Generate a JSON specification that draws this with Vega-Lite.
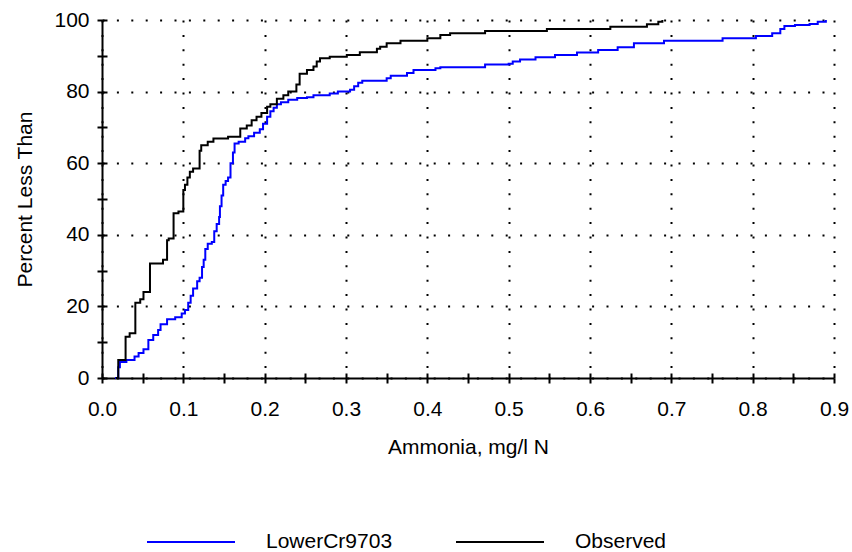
{
  "$schema": "https://vega.github.io/schema/vega-lite/v6.json",
  "autosize": {"type": "none"},
  "width": 732,
  "height": 358,
  "padding": {"left": 102, "top": 20, "right": 18, "bottom": 174},
  "background": "white",
  "config": {
    "view": {"stroke": null},
    "font": "Liberation Sans",
    "axis": {"labelFont": "Liberation Sans", "titleFont": "Liberation Sans", "labelColor": "black", "titleColor": "black", "titleFontWeight": "normal", "labelFontSize": 21, "titleFontSize": 21}
  },
  "data": {
    "values": [
      {"series": "LowerCr9703", "x": 0.016, "p": 0},
      {"series": "LowerCr9703", "x": 0.020, "p": 3},
      {"series": "LowerCr9703", "x": 0.022, "p": 4.5},
      {"series": "LowerCr9703", "x": 0.030, "p": 5},
      {"series": "LowerCr9703", "x": 0.040, "p": 6},
      {"series": "LowerCr9703", "x": 0.045, "p": 7},
      {"series": "LowerCr9703", "x": 0.051, "p": 8},
      {"series": "LowerCr9703", "x": 0.057, "p": 10.6},
      {"series": "LowerCr9703", "x": 0.063, "p": 12},
      {"series": "LowerCr9703", "x": 0.069, "p": 13.4},
      {"series": "LowerCr9703", "x": 0.072, "p": 15},
      {"series": "LowerCr9703", "x": 0.080, "p": 16.4},
      {"series": "LowerCr9703", "x": 0.090, "p": 17},
      {"series": "LowerCr9703", "x": 0.098, "p": 18},
      {"series": "LowerCr9703", "x": 0.102, "p": 19},
      {"series": "LowerCr9703", "x": 0.106, "p": 21},
      {"series": "LowerCr9703", "x": 0.109, "p": 23},
      {"series": "LowerCr9703", "x": 0.112, "p": 25},
      {"series": "LowerCr9703", "x": 0.117, "p": 27},
      {"series": "LowerCr9703", "x": 0.120, "p": 28},
      {"series": "LowerCr9703", "x": 0.123, "p": 31},
      {"series": "LowerCr9703", "x": 0.125, "p": 33},
      {"series": "LowerCr9703", "x": 0.127, "p": 36},
      {"series": "LowerCr9703", "x": 0.130, "p": 37.5},
      {"series": "LowerCr9703", "x": 0.135, "p": 38},
      {"series": "LowerCr9703", "x": 0.138, "p": 41},
      {"series": "LowerCr9703", "x": 0.141, "p": 43},
      {"series": "LowerCr9703", "x": 0.144, "p": 45},
      {"series": "LowerCr9703", "x": 0.145, "p": 48},
      {"series": "LowerCr9703", "x": 0.147, "p": 51},
      {"series": "LowerCr9703", "x": 0.149, "p": 54},
      {"series": "LowerCr9703", "x": 0.152, "p": 55},
      {"series": "LowerCr9703", "x": 0.155, "p": 56},
      {"series": "LowerCr9703", "x": 0.158, "p": 60},
      {"series": "LowerCr9703", "x": 0.161, "p": 63},
      {"series": "LowerCr9703", "x": 0.163, "p": 65.5},
      {"series": "LowerCr9703", "x": 0.168, "p": 66},
      {"series": "LowerCr9703", "x": 0.176, "p": 67},
      {"series": "LowerCr9703", "x": 0.180, "p": 67.5},
      {"series": "LowerCr9703", "x": 0.187, "p": 68.5},
      {"series": "LowerCr9703", "x": 0.194, "p": 69.5},
      {"series": "LowerCr9703", "x": 0.198, "p": 71},
      {"series": "LowerCr9703", "x": 0.203, "p": 73},
      {"series": "LowerCr9703", "x": 0.207, "p": 74.5},
      {"series": "LowerCr9703", "x": 0.211, "p": 75.5},
      {"series": "LowerCr9703", "x": 0.215, "p": 76.5},
      {"series": "LowerCr9703", "x": 0.220, "p": 77},
      {"series": "LowerCr9703", "x": 0.229, "p": 77.7},
      {"series": "LowerCr9703", "x": 0.240, "p": 78.2},
      {"series": "LowerCr9703", "x": 0.252, "p": 78.4},
      {"series": "LowerCr9703", "x": 0.260, "p": 79},
      {"series": "LowerCr9703", "x": 0.280, "p": 79.5},
      {"series": "LowerCr9703", "x": 0.290, "p": 80},
      {"series": "LowerCr9703", "x": 0.305, "p": 80.5},
      {"series": "LowerCr9703", "x": 0.310, "p": 81.5},
      {"series": "LowerCr9703", "x": 0.315, "p": 82.5},
      {"series": "LowerCr9703", "x": 0.320, "p": 83},
      {"series": "LowerCr9703", "x": 0.350, "p": 83.7},
      {"series": "LowerCr9703", "x": 0.355, "p": 84.4},
      {"series": "LowerCr9703", "x": 0.375, "p": 85.2},
      {"series": "LowerCr9703", "x": 0.383, "p": 86},
      {"series": "LowerCr9703", "x": 0.410, "p": 86.5},
      {"series": "LowerCr9703", "x": 0.416, "p": 86.8},
      {"series": "LowerCr9703", "x": 0.471, "p": 87.6},
      {"series": "LowerCr9703", "x": 0.500, "p": 87.8},
      {"series": "LowerCr9703", "x": 0.505, "p": 88.4},
      {"series": "LowerCr9703", "x": 0.514, "p": 89},
      {"series": "LowerCr9703", "x": 0.533, "p": 89.6},
      {"series": "LowerCr9703", "x": 0.557, "p": 90.2},
      {"series": "LowerCr9703", "x": 0.584, "p": 90.9},
      {"series": "LowerCr9703", "x": 0.610, "p": 91.6},
      {"series": "LowerCr9703", "x": 0.634, "p": 92.4},
      {"series": "LowerCr9703", "x": 0.654, "p": 93.5},
      {"series": "LowerCr9703", "x": 0.691, "p": 94.2},
      {"series": "LowerCr9703", "x": 0.763, "p": 94.9},
      {"series": "LowerCr9703", "x": 0.804, "p": 95.5},
      {"series": "LowerCr9703", "x": 0.824, "p": 96.3},
      {"series": "LowerCr9703", "x": 0.834, "p": 97.5},
      {"series": "LowerCr9703", "x": 0.839, "p": 98.3},
      {"series": "LowerCr9703", "x": 0.852, "p": 98.6},
      {"series": "LowerCr9703", "x": 0.870, "p": 98.9},
      {"series": "LowerCr9703", "x": 0.880, "p": 99.5},
      {"series": "LowerCr9703", "x": 0.890, "p": 100},
      {"series": "Observed", "x": 0.017, "p": 0},
      {"series": "Observed", "x": 0.020, "p": 5},
      {"series": "Observed", "x": 0.029, "p": 11.5},
      {"series": "Observed", "x": 0.034, "p": 12.5},
      {"series": "Observed", "x": 0.041, "p": 21},
      {"series": "Observed", "x": 0.047, "p": 22},
      {"series": "Observed", "x": 0.051, "p": 24},
      {"series": "Observed", "x": 0.059, "p": 32},
      {"series": "Observed", "x": 0.075, "p": 33},
      {"series": "Observed", "x": 0.080, "p": 38.5},
      {"series": "Observed", "x": 0.082, "p": 39},
      {"series": "Observed", "x": 0.088, "p": 46},
      {"series": "Observed", "x": 0.094, "p": 46.5},
      {"series": "Observed", "x": 0.100, "p": 52.5},
      {"series": "Observed", "x": 0.102, "p": 54},
      {"series": "Observed", "x": 0.105, "p": 56},
      {"series": "Observed", "x": 0.108, "p": 57.6},
      {"series": "Observed", "x": 0.112, "p": 58.5},
      {"series": "Observed", "x": 0.120, "p": 63.5},
      {"series": "Observed", "x": 0.122, "p": 65},
      {"series": "Observed", "x": 0.130, "p": 66},
      {"series": "Observed", "x": 0.137, "p": 66.9},
      {"series": "Observed", "x": 0.155, "p": 67.4},
      {"series": "Observed", "x": 0.170, "p": 69.7},
      {"series": "Observed", "x": 0.178, "p": 70.5},
      {"series": "Observed", "x": 0.184, "p": 72},
      {"series": "Observed", "x": 0.190, "p": 73},
      {"series": "Observed", "x": 0.196, "p": 74},
      {"series": "Observed", "x": 0.203, "p": 75.8},
      {"series": "Observed", "x": 0.207, "p": 76.5},
      {"series": "Observed", "x": 0.215, "p": 78},
      {"series": "Observed", "x": 0.223, "p": 79},
      {"series": "Observed", "x": 0.229, "p": 80},
      {"series": "Observed", "x": 0.239, "p": 82},
      {"series": "Observed", "x": 0.243, "p": 85},
      {"series": "Observed", "x": 0.252, "p": 86},
      {"series": "Observed", "x": 0.260, "p": 87},
      {"series": "Observed", "x": 0.264, "p": 88.4},
      {"series": "Observed", "x": 0.268, "p": 89.3},
      {"series": "Observed", "x": 0.280, "p": 89.7},
      {"series": "Observed", "x": 0.301, "p": 90.2},
      {"series": "Observed", "x": 0.317, "p": 91},
      {"series": "Observed", "x": 0.338, "p": 92},
      {"series": "Observed", "x": 0.342, "p": 92.5},
      {"series": "Observed", "x": 0.350, "p": 93.5},
      {"series": "Observed", "x": 0.367, "p": 94.2},
      {"series": "Observed", "x": 0.400, "p": 94.9},
      {"series": "Observed", "x": 0.416, "p": 95.8},
      {"series": "Observed", "x": 0.428, "p": 96.3},
      {"series": "Observed", "x": 0.471, "p": 96.9},
      {"series": "Observed", "x": 0.547, "p": 97.5},
      {"series": "Observed", "x": 0.625, "p": 98.1},
      {"series": "Observed", "x": 0.670, "p": 98.8},
      {"series": "Observed", "x": 0.684, "p": 99.5},
      {"series": "Observed", "x": 0.689, "p": 100}
    ]
  },
  "layer": [
    {
      "transform": [{"filter": "datum.series == 'LowerCr9703'"}],
      "mark": {"type": "line", "interpolate": "step-after", "strokeWidth": 2, "clip": false},
      "encoding": {
        "x": {"field": "x", "type": "quantitative", "scale": {"domain": [0, 0.9], "nice": false, "zero": false},
          "axis": {"orient": "bottom", "values": [0, 0.05, 0.1, 0.15, 0.2, 0.25, 0.3, 0.35, 0.4, 0.45, 0.5, 0.55, 0.6, 0.65, 0.7, 0.75, 0.8, 0.85, 0.9],
            "labelExpr": "round(datum.value*100) % 10 == 0 ? format(datum.value, '.1f') : ''",
            "tickSize": 5, "tickWidth": 2, "tickColor": "black", "domainColor": "black", "domainWidth": 2,
            "labelPadding": 15, "labelFlush": false, "labelOverlap": false, "labelBound": false,
            "title": "Ammonia, mg/l N", "titlePadding": 17, "grid": false}},
        "y": {"field": "p", "type": "quantitative", "scale": {"domain": [0, 100], "nice": false},
          "axis": {"orient": "left", "values": [0, 10, 20, 30, 40, 50, 60, 70, 80, 90, 100],
            "labelExpr": "datum.value % 20 == 0 ? datum.label : ''",
            "tickSize": 5, "tickWidth": 2, "tickColor": "black", "domainColor": "black", "domainWidth": 2,
            "labelPadding": 8, "labelFlush": false, "labelOverlap": false, "labelBound": false,
            "title": "Percent Less Than", "titlePadding": 18, "grid": false}},
        "color": {"field": "series", "type": "nominal",
          "scale": {"domain": ["LowerCr9703", "Observed"], "range": ["#0000ff", "#000000"]},
          "legend": {"orient": "none", "legendX": 44, "legendY": 477, "direction": "horizontal", "title": null,
            "symbolType": "stroke", "symbolSize": 7744, "symbolStrokeWidth": 2,
            "labelFontSize": 21, "labelFont": "Liberation Sans", "labelColor": "black", "labelOffset": 30, "columnPadding": 59, "padding": 0}}
      }
    },
    {
      "transform": [{"filter": "datum.series == 'Observed'"}],
      "mark": {"type": "line", "interpolate": "step-after", "strokeWidth": 2, "clip": false},
      "encoding": {
        "x": {"field": "x", "type": "quantitative",
          "axis": {"orient": "bottom", "values": [0, 0.05, 0.1, 0.15, 0.2, 0.25, 0.3, 0.35, 0.4, 0.45, 0.5, 0.55, 0.6, 0.65, 0.7, 0.75, 0.8, 0.85, 0.9],
            "labels": false, "title": null, "domain": false,
            "tickSize": -5, "tickWidth": 2, "tickColor": "black",
            "grid": true, "gridColor": "black", "gridWidth": 2, "gridDash": [2, 12.4],
            "gridOpacity": {"condition": {"test": "round(datum.value*100) % 10 != 0", "value": 0}, "value": 1}}},
        "y": {"field": "p", "type": "quantitative",
          "axis": {"orient": "left", "values": [0, 10, 20, 30, 40, 50, 60, 70, 80, 90, 100],
            "labels": false, "title": null, "domain": false,
            "tickSize": -5, "tickWidth": 2, "tickColor": "black",
            "grid": true, "gridColor": "black", "gridWidth": 2, "gridDash": [2, 12.4],
            "gridOpacity": {"condition": {"test": "datum.value % 20 != 0", "value": 0}, "value": 1}}},
        "color": {"field": "series", "type": "nominal"}
      }
    }
  ],
  "resolve": {"axis": {"x": "independent", "y": "independent"}}
}
